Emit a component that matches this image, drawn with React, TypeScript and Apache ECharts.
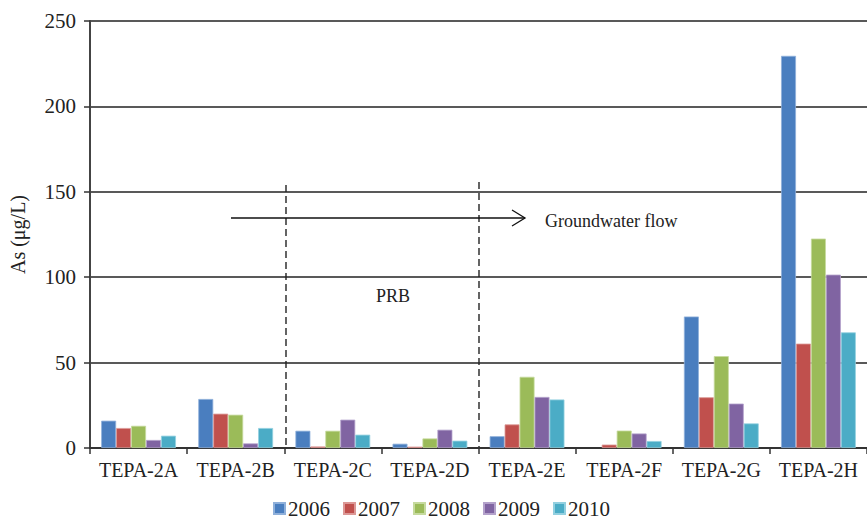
import React, { useEffect, useRef } from "react";
import * as echarts from "echarts";

const categories = ["TEPA-2A", "TEPA-2B", "TEPA-2C", "TEPA-2D", "TEPA-2E", "TEPA-2F", "TEPA-2G", "TEPA-2H"];
const years = ["2006", "2007", "2008", "2009", "2010"];
const v2006 = [16, 28.7, 10.1, 2.5, 6.9, null, 77, 229.6];
const v2007 = [11.7, 20.1, 0.9, 0.8, 13.8, 2, 29.7, 61.1];
const v2008 = [13, 19.5, 10.1, 5.6, 41.7, 10.2, 53.8, 122.6];
const v2009 = [4.7, 2.7, 16.6, 10.7, 29.9, 8.5, 26, 101.5];
const v2010 = [7.2, 11.7, 7.8, 4.3, 28.4, 4.1, 14.4, 67.7];
const seriesValues = [v2006, v2007, v2008, v2009, v2010];
const colors = ["#4A7EBF", "#C0504D", "#9BBB59", "#8064A2", "#4BACC6"];
const borders = ["#8FB0DA", "#DC9896", "#C6DA9E", "#B4A2CB", "#93D0E0"];
const yTicks = [0, 50, 100, 150, 200, 250];

const FONT = "'Liberation Serif', 'Times New Roman', serif";

export default function App() {
  const ref = useRef<HTMLDivElement>(null);
  useEffect(() => {
    if (!ref.current) return;
    const chart = echarts.init(ref.current, null, { renderer: "svg" });
    chart.setOption({
      animation: false,
      color: colors,
      textStyle: { fontFamily: FONT },
      grid: { left: 90, top: 21, width: 780, height: 427, containLabel: false },
      legend: {
        data: years,
        left: 273,
        top: 498,
        padding: 0,
        itemWidth: 11,
        itemHeight: 11,
        itemGap: 13,
        icon: "rect",
        textStyle: { fontFamily: FONT, fontSize: 21, lineHeight: 20, color: "#222", padding: [0, 0, 0, -2] },
      },
      xAxis: {
        type: "category",
        data: categories,
        axisLine: { lineStyle: { color: "#333", width: 2 } },
        axisTick: { show: true, length: 6, interval: 0, lineStyle: { color: "#333", width: 1.5 } },
        axisLabel: { fontFamily: FONT, fontSize: 20, color: "#222", margin: 12, interval: 0 },
      },
      yAxis: {
        type: "value",
        min: yTicks[0],
        max: yTicks[yTicks.length - 1],
        interval: 50,
        name: "As (μg/L)",
        nameLocation: "middle",
        nameGap: 62,
        nameTextStyle: { fontFamily: FONT, fontSize: 20, color: "#222" },
        axisLine: { show: true, lineStyle: { color: "#444", width: 2 } },
        axisTick: { show: true, length: 6, lineStyle: { color: "#333", width: 1.5 } },
        axisLabel: { fontFamily: FONT, fontSize: 21, color: "#222", margin: 14 },
        splitLine: { show: true, lineStyle: { color: "#222", width: 1.5 } },
      },
      series: years.map((y, i) => ({
        name: y,
        type: "bar",
        data: seriesValues[i],
        barGap: "0%",
        barCategoryGap: "23%",
        itemStyle: { color: colors[i], borderColor: borders[i], borderWidth: 0.8 },
      })),
      graphic: [
        {
          type: "line",
          shape: { x1: 286, y1: 185, x2: 286, y2: 447 },
          style: { stroke: "#111", lineWidth: 1.3, lineDash: [7, 4] },
        },
        {
          type: "line",
          shape: { x1: 479, y1: 182, x2: 479, y2: 447 },
          style: { stroke: "#111", lineWidth: 1.3, lineDash: [7, 4] },
        },
        {
          type: "line",
          shape: { x1: 231, y1: 218, x2: 525, y2: 218 },
          style: { stroke: "#111", lineWidth: 1.3 },
        },
        {
          type: "polyline",
          shape: { points: [[512, 210], [525, 218], [512, 226]] },
          style: { stroke: "#111", lineWidth: 1.3, fill: "none" },
        },
        {
          type: "text",
          x: 545,
          y: 221,
          style: { text: "Groundwater flow", font: `18px ${FONT}`, fill: "#222", textVerticalAlign: "middle" },
        },
        {
          type: "text",
          x: 393,
          y: 296,
          style: { text: "PRB", font: `18px ${FONT}`, fill: "#222", textAlign: "center", textVerticalAlign: "middle" },
        },
      ],
    });
    return () => chart.dispose();
  }, []);
  return <div ref={ref} style={{ width: 867, height: 521, position: "absolute", left: 0, top: 0 }} />;
}
